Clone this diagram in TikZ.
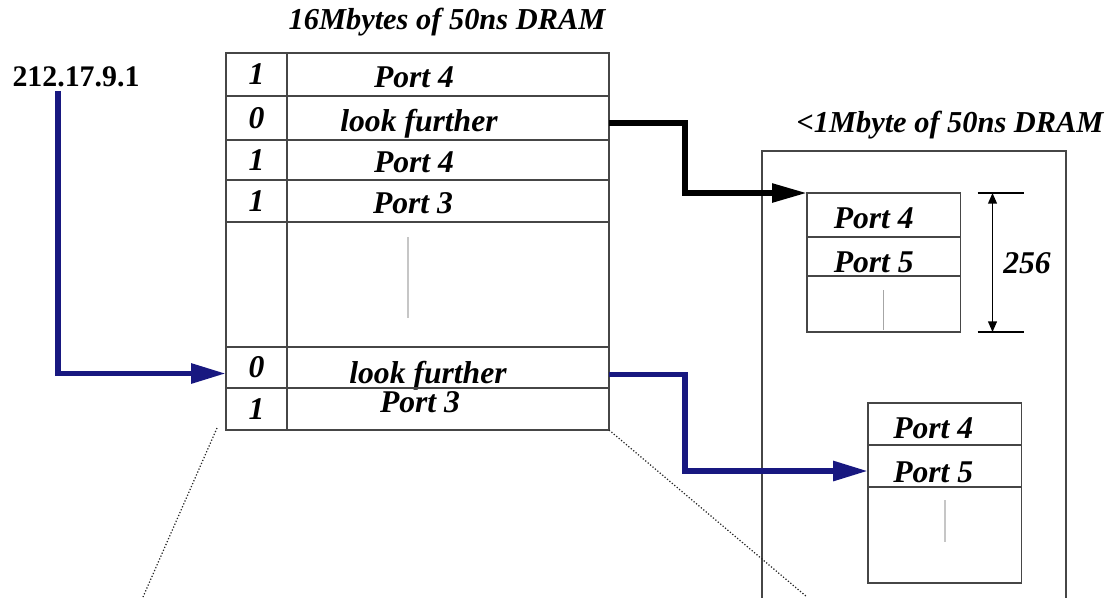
\documentclass[tikz,border=0pt]{standalone}
\usepackage{fontspec}
\setmainfont{Liberation Serif}
\usetikzlibrary{arrows.meta,positioning}

\definecolor{navyline}{RGB}{24,24,128}
\definecolor{gridline}{RGB}{70,70,70}

\begin{document}
\begin{tikzpicture}[
cell/.style={draw=gridline,line width=0.75pt,outer sep=0pt,inner sep=0pt,font=\fontsize{18}{20}\selectfont\bfseries\itshape},
bitcell/.style={cell,minimum width=1.22cm},
entry/.style={cell,minimum width=6.44cm},
slot/.style={cell,minimum width=3.07cm},
txt/.style={font=\fontsize{18}{20}\selectfont\bfseries\itshape,inner sep=0pt},
heading/.style={font=\fontsize{17.3}{19}\selectfont\bfseries\itshape},
sepline/.style={gray!45,line width=1.2pt},
bluearr/.style={navyline,line width=3.4pt,-{Triangle[length=0.7cm,width=0.38cm]}},
blackarr/.style={black,line width=3.2pt,-{Triangle[length=0.7cm,width=0.36cm]}},
dimline/.style={black,line width=0.75pt,{Triangle[length=6pt,width=5pt]}-{Triangle[length=6pt,width=5pt]}},
zoomline/.style={black!85,line width=0.7pt,dash pattern=on 0.7pt off 1.1pt}]
\useasboundingbox (0,0) rectangle (22.2,-11.94);

% main lookup table
\node[bitcell,minimum height=0.86cm,anchor=north west] (b1) at (4.52,-1.06) {1};
\node[entry,minimum height=0.86cm,right=0pt of b1,label={[txt,xshift=-0.68cm,yshift=-0.05cm]center:Port 4}] (e1) {};
\node[bitcell,minimum height=0.88cm,below=0pt of b1] (b2) {0};
\node[entry,minimum height=0.88cm,right=0pt of b2,label={[txt,xshift=-0.58cm,yshift=-0.12cm]center:look further}] (e2) {};
\node[bitcell,minimum height=0.8cm,below=0pt of b2] (b3) {1};
\node[entry,minimum height=0.8cm,right=0pt of b3,label={[txt,xshift=-0.68cm,yshift=-0.05cm]center:Port 4}] (e3) {};
\node[bitcell,minimum height=0.84cm,below=0pt of b3] (b4) {1};
\node[entry,minimum height=0.84cm,right=0pt of b4,label={[txt,xshift=-0.7cm,yshift=-0.05cm]center:Port 3}] (e4) {};
\node[bitcell,minimum height=2.5cm,below=0pt of b4] (b5) {};
\node[entry,minimum height=2.5cm,right=0pt of b5] (e5) {};
\node[bitcell,minimum height=0.82cm,below=0pt of b5] (b6) {0};
\node[entry,minimum height=0.82cm,right=0pt of b6,label={[txt,xshift=-0.4cm,yshift=-0.16cm]center:look further}] (e6) {};
\node[bitcell,minimum height=0.84cm,below=0pt of b6] (b7) {1};
\node[entry,minimum height=0.84cm,right=0pt of b7,label={[txt,xshift=-0.56cm,yshift=0.14cm]center:Port 3}] (e7) {};
\draw[sepline] ([xshift=-0.8cm,yshift=0.95cm]e5.center) -- ++(0,-1.62);
\node[heading] (maintitle) at (8.94,-0.44) {16Mbytes of 50ns DRAM};

% second level memory
\draw[gridline,line width=0.75pt] (15.24,-12.1) -- (15.24,-3.02) -- (21.32,-3.02) -- (21.32,-12.1);
\node[heading] (subtitle) at (19.0,-2.5) {<1Mbyte of 50ns DRAM};

\node[slot,minimum height=0.88cm,anchor=north west,label={[txt,xshift=-0.2cm,yshift=-0.06cm]center:Port 4}] (tA1) at (16.14,-3.86) {};
\node[slot,minimum height=0.78cm,below=0pt of tA1,label={[txt,xshift=-0.2cm,yshift=-0.12cm]center:Port 5}] (tA2) {};
\node[slot,minimum height=1.12cm,below=0pt of tA2] (tA3) {};
\draw[gray!70,line width=0.8pt] ([yshift=-0.28cm]tA3.north) -- ([yshift=0.04cm]tA3.south);

\node[slot,minimum height=0.84cm,anchor=north west,label={[txt,xshift=-0.23cm,yshift=-0.08cm]center:Port 4}] (tB1) at (17.36,-8.06) {};
\node[slot,minimum height=0.84cm,below=0pt of tB1,label={[txt,xshift=-0.23cm,yshift=-0.12cm]center:Port 5}] (tB2) {};
\node[slot,minimum height=1.92cm,below=0pt of tB2] (tB3) {};
\draw[sepline] ([yshift=-0.26cm]tB3.north) -- ++(0,-0.84);

% block size
\coordinate (dimtop) at ([xshift=0.64cm]tA1.north east);
\coordinate (dimbot) at ([xshift=0.64cm]tA3.south east);
\draw[black,line width=0.75pt] ([xshift=0.34cm]tA1.north east) -- ([xshift=1.26cm]tA1.north east);
\draw[black,line width=0.75pt] ([xshift=0.34cm]tA3.south east) -- ([xshift=1.26cm]tA3.south east);
\draw[dimline] (dimtop) -- (dimbot);
\node[txt] (blocksize) at (20.54,-5.26) {256};

% address and pointers
\node[font=\fontsize{17}{19}\selectfont\bfseries,inner sep=2pt] (ip) at (1.52,-1.54) {212.17.9.1};
\draw[bluearr] ([xshift=-0.36cm]ip.south) |- ([yshift=-0.12cm]b6.west);
\draw[blackarr] ([yshift=-0.1cm]e2.east) -- ++(1.52,0) |- (tA1.north west);
\draw[bluearr] ([yshift=-0.14cm]e6.east) -- ++(1.52,0) |- ([yshift=-0.1cm]tB2.west);

% zoom lines
\coordinate (zoomleft) at (2.86,-11.94);
\coordinate (zoomright) at (16.14,-11.94);
\draw[zoomline] ([xshift=-0.18cm,yshift=0.04cm]b7.south west) -- (zoomleft);
\draw[zoomline] (e7.south east) -- (zoomright);
\end{tikzpicture}
\end{document}
